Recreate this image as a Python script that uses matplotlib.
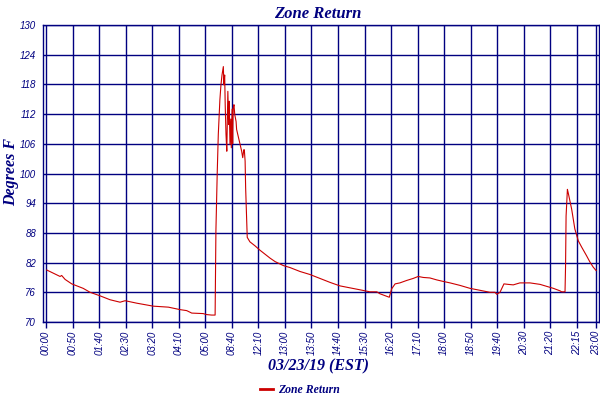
import numpy as np
import matplotlib.pyplot as plt

# x positions are in tick-slot units (0 = 00:00 slot, 20 = 22:15 slot)
xpos = [0.03, 0.53, 0.59, 0.72, 0.97, 1.40, 1.66, 2.03, 2.41, 2.79, 2.98, 3.42,
        4.04, 4.61, 5.05, 5.30, 5.49, 5.92, 6.05, 6.24, 6.37,
        6.38, 6.40, 6.45, 6.49, 6.55, 6.59, 6.63, 6.68, 6.70, 6.73, 6.75, 6.78,
        6.81, 6.85, 6.88, 6.90, 6.93, 6.96, 6.98, 7.01, 7.03, 7.05, 7.08, 7.11,
        7.16, 7.18, 7.24, 7.31, 7.37, 7.41, 7.45, 7.47, 7.50, 7.52, 7.56, 7.58,
        7.68, 7.87, 8.06, 8.25, 8.44, 8.63, 8.94, 9.19, 9.57, 9.94, 10.32, 10.70,
        11.07, 11.45, 11.83, 12.20, 12.46, 12.58, 12.83, 12.93, 13.02, 13.15,
        13.33, 13.59, 13.83, 14.02, 14.21, 14.46, 14.72, 14.96, 15.22, 15.59,
        15.97, 16.35, 16.72, 16.91, 16.98, 17.10, 17.25, 17.41, 17.60, 17.85,
        18.23, 18.61, 18.86, 19.11, 19.36, 19.42, 19.55, 19.57, 19.59, 19.64,
        19.67, 19.80, 19.92, 20.05, 20.18, 20.36, 20.49, 20.61, 20.72]
temps = [80.5, 79.2, 79.4, 78.6, 77.7, 76.8, 76.0, 75.3, 74.5, 74.0, 74.3, 73.8,
         73.2, 73.0, 72.5, 72.3, 71.8, 71.7, 71.5, 71.4, 71.4,
         77.0, 88.4, 100.2, 107.9, 114.9, 117.9, 119.9, 121.6, 117.9, 119.9, 113.9, 107.9,
         104.5, 116.6, 109.9, 114.6, 105.9, 111.0, 105.2, 113.0, 106.0, 113.2, 113.9, 111.9,
         110.5, 108.9, 107.5, 105.9, 104.5, 103.2, 104.8, 104.8, 102.5, 97.1, 90.4, 87.1,
         86.2, 85.4, 84.5, 83.7, 82.9, 82.2, 81.4, 81.0, 80.2, 79.6, 78.8, 78.0,
         77.3, 76.9, 76.5, 76.1, 76.1, 75.7, 75.2, 75.0, 76.7, 77.7,
         77.9, 78.4, 78.8, 79.2, 79.0, 78.9, 78.5, 78.2, 77.9, 77.4,
         76.8, 76.4, 76.0, 76.0, 75.6, 76.0, 77.7, 77.6, 77.5, 77.9,
         77.9, 77.6, 77.2, 76.8, 76.3, 76.1, 76.1, 81.2, 91.4, 96.8,
         96.1, 92.8, 88.8, 86.4, 85.1, 83.4, 82.1, 81.1, 80.4]

tick_labels = ['00:00', '00:50', '01:40', '02:30', '03:20', '04:10', '05:00',
               '08:40', '12:10', '13:00', '13:50', '14:40', '15:30', '16:20',
               '17:10', '18:00', '18:50', '19:40', '20:30', '21:20', '22:15', '23:00']
tick_pos = list(range(21)) + [20.72]
y_ticks = [70, 76, 82, 88, 94, 100, 106, 112, 118, 124, 130]

navy = '#000080'
red = '#cc0000'

fig = plt.figure(figsize=(6, 4), dpi=100)
ax = fig.add_axes([43/600, 1 - 322/400, 556/600, 297/400])

ax.plot(xpos, temps, '-', color=red, linewidth=0.8, label='Zone Return')

ax.set_xlim(-0.113, 20.83)
ax.set_ylim(70, 130)
ax.set_xticks(tick_pos)
ax.set_xticklabels(tick_labels, rotation=90, fontsize=7, style='italic',
                   color=navy, family='Liberation Sans')
ax.set_yticks(y_ticks)
ax.set_yticklabels([str(v) for v in y_ticks], fontsize=7, style='italic',
                   color=navy, family='Liberation Sans')
ax.tick_params(axis='x', length=4, width=1.0, color=navy, pad=2)
ax.tick_params(axis='y', length=0, pad=5)
ax.grid(True, color=navy, linewidth=1.0)
ax.set_axisbelow(True)
for s in ax.spines.values():
    s.set_color(navy)
    s.set_linewidth(1.0)

font = dict(family='Liberation Serif', style='italic', weight='bold', color=navy)
fig.text(0.53, 0.985, 'Zone Return', ha='center', va='top', fontsize=12, **font)
fig.text(0.53, 0.085, '03/23/19 (EST)', ha='center', va='center', fontsize=11.5, **font)
fig.text(0.018, 0.57, 'Degrees F', ha='center', va='center', rotation=90,
         fontsize=11.5, **font)

leg = fig.legend(loc='center', bbox_to_anchor=(0.5, 0.025), frameon=False,
                 handlelength=1.1, handletextpad=0.4,
                 prop=dict(family='Liberation Serif', style='italic', weight='bold', size=8.5))
for t in leg.get_texts():
    t.set_color(navy)
for ln in leg.get_lines():
    ln.set_linewidth(2)

fig.savefig('out.png', dpi=100)
